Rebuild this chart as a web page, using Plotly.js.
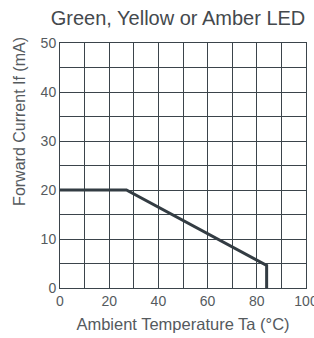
<!DOCTYPE html>
<html>
<head>
<meta charset="utf-8">
<script src="https://cdn.plot.ly/plotly-3.0.1.min.js"></script>
<style>html,body{margin:0;padding:0;background:#fff;}#chart{width:314px;height:338px;}</style>
</head>
<body>
<div id="chart"></div>
<script>
var temperature = [0, 27, 84, 84];
var current = [20, 20, 4.6, 0];
var xTicks = [0, 20, 40, 60, 80, 100];
var yTicks = [0, 10, 20, 30, 40, 50];
var titleText = 'Green, Yellow or Amber LED';
var xTitle = 'Ambient Temperature Ta (°C)';
var yTitle = 'Forward Current If (mA)';

var gridColor = '#3b444b';
var textColor = '#555a5e';
var fontFam = '"Liberation Sans", Arial, sans-serif';

var trace = {
  x: temperature,
  y: current,
  mode: 'lines',
  line: {color: '#333c43', width: 3},
  hoverinfo: 'skip',
  showlegend: false
};

var layout = {
  width: 314,
  height: 338,
  margin: {l: 60, r: 8, t: 43, b: 50},
  paper_bgcolor: '#ffffff',
  plot_bgcolor: '#ffffff',
  font: {family: fontFam, color: textColor, size: 14},
  title: {
    text: titleText,
    font: {family: fontFam, size: 20, color: '#44494d'},
    x: 0.567, xanchor: 'center',
    y: 0.948, yanchor: 'middle'
  },
  xaxis: {
    range: [0, 100],
    tickvals: xTicks,
    ticktext: xTicks.map(String),
    ticklabeloverflow: 'allow',
    showgrid: true, gridcolor: gridColor, gridwidth: 1,
    minor: {dtick: 10, tick0: 0, showgrid: true, gridcolor: gridColor, gridwidth: 1},
    showline: true, linecolor: gridColor, linewidth: 1, mirror: true,
    zeroline: false, ticks: '',
    tickfont: {family: fontFam, size: 14, color: textColor},
    title: {text: xTitle, font: {family: fontFam, size: 16.5, color: textColor}, standoff: 10},
    fixedrange: true
  },
  yaxis: {
    range: [0, 50],
    tickvals: yTicks,
    ticktext: yTicks.map(String),
    showgrid: true, gridcolor: gridColor, gridwidth: 1,
    minor: {dtick: 5, tick0: 0, showgrid: true, gridcolor: gridColor, gridwidth: 1},
    showline: true, linecolor: gridColor, linewidth: 1, mirror: true,
    zeroline: false, ticks: '',
    tickfont: {family: fontFam, size: 14, color: textColor},
    fixedrange: true
  },
  annotations: [{
    text: yTitle,
    xref: 'paper', yref: 'paper',
    x: 0, y: 0.678,
    xanchor: 'center', yanchor: 'middle',
    xshift: -40,
    textangle: -90,
    showarrow: false,
    font: {family: fontFam, size: 16, color: textColor}
  }]
};

Plotly.newPlot('chart', [trace], layout, {displayModeBar: false, staticPlot: true});
</script>
</body>
</html>
